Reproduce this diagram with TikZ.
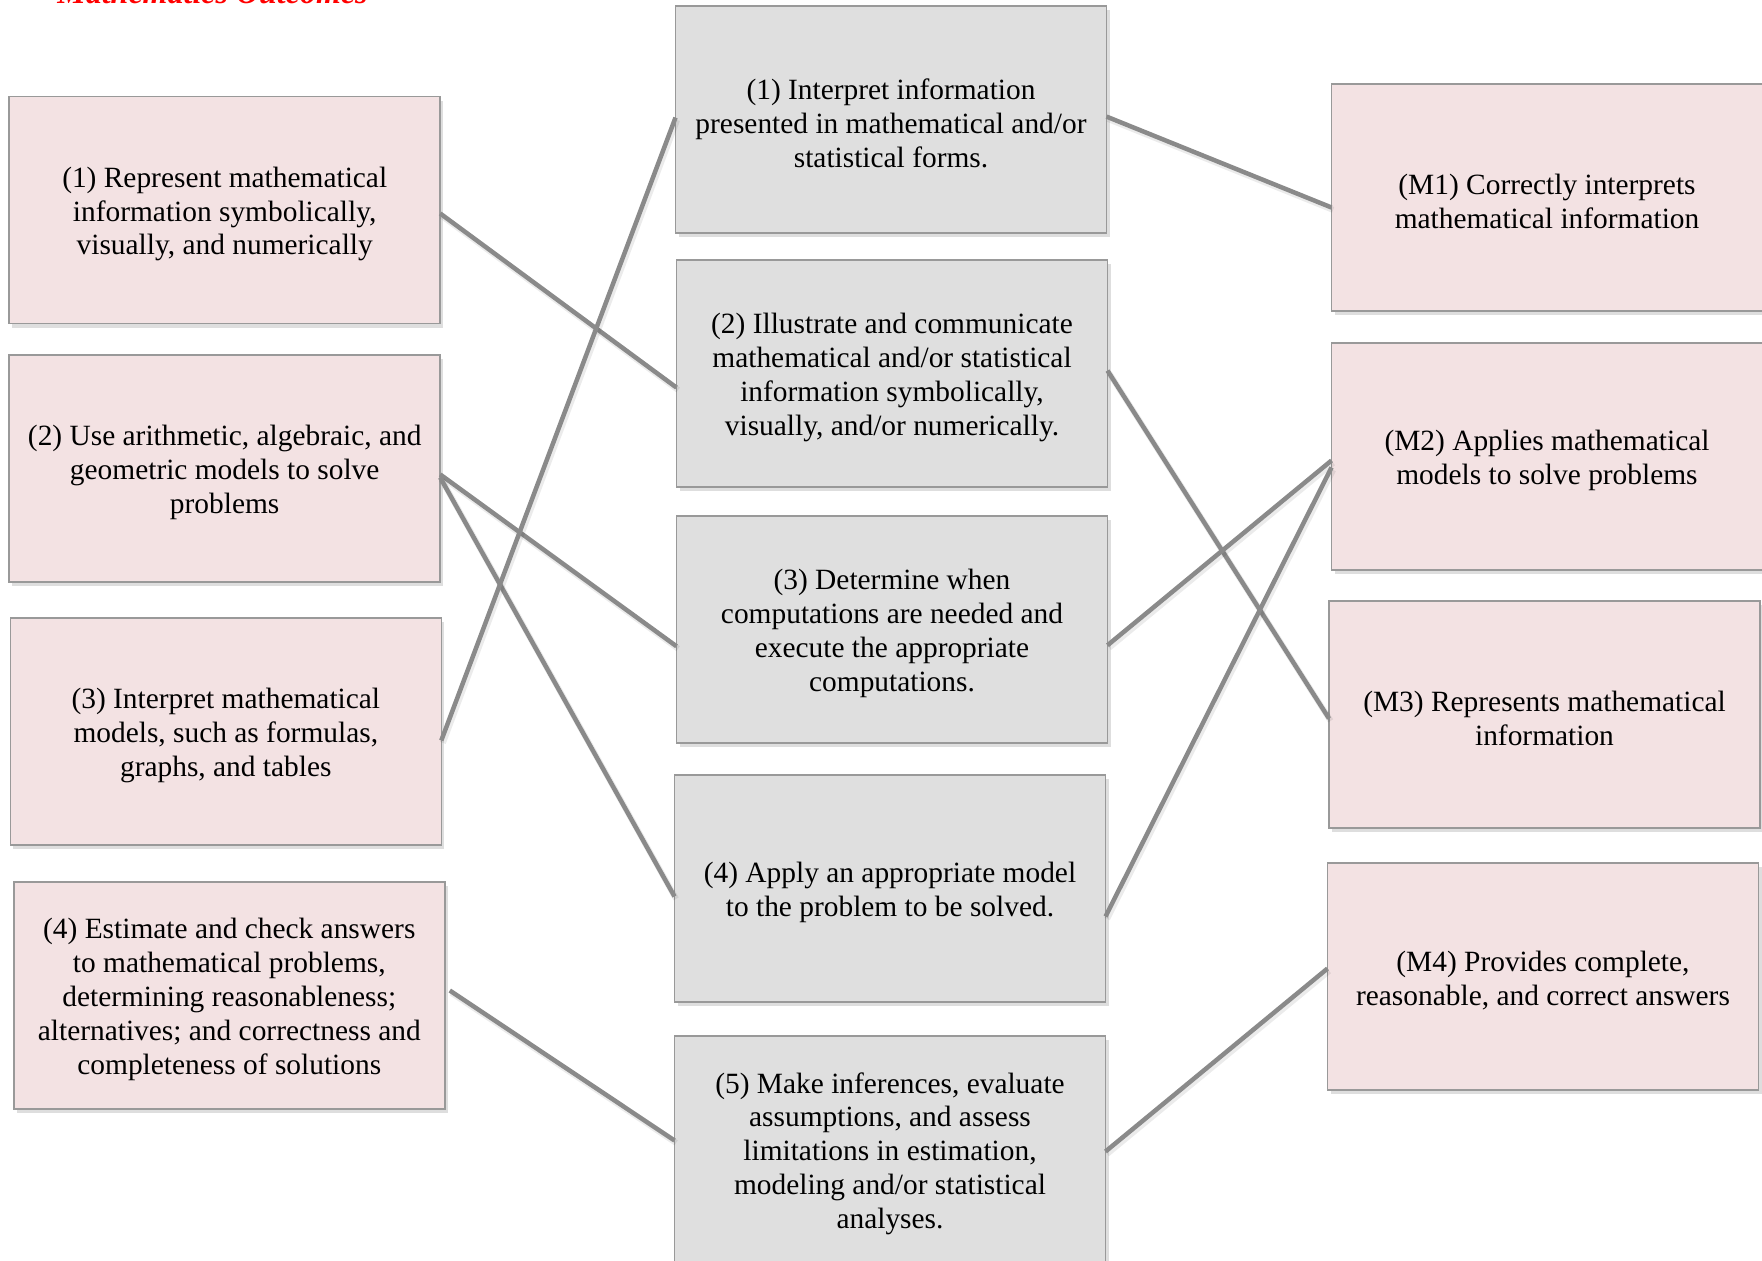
\documentclass[tikz,border=0pt]{standalone}
\usepackage{fontspec}
\setmainfont{Liberation Serif}
\usetikzlibrary{calc,shadows}
\definecolor{pinkfill}{HTML}{F3E2E3}
\definecolor{grayfill}{HTML}{DFDFDF}
\definecolor{boxline}{HTML}{999999}
\definecolor{linkcol}{HTML}{8A8A8A}
\begin{document}
\begin{tikzpicture}[x=0.5pt,y=-0.5pt,
  box/.style={draw=boxline, line width=0.75pt, minimum width=215.5pt, minimum height=113.5pt,
    inner sep=0pt, outer sep=0pt,
    drop shadow={shadow xshift=1.5pt, shadow yshift=-2.2pt, opacity=0.13, fill=black}},
  pbox/.style={box, fill=pinkfill},
  gbox/.style={box, fill=grayfill},
  tl/.style={align=center, inner sep=0pt, yshift=-2pt,
    font=\fontsize{14.7}{16.9}\selectfont},
  link/.style={draw=linkcol, line width=2.25pt,
    preaction={draw=black, opacity=0.08, line width=3pt, transform canvas={shift={(0.8pt,-1.2pt)}}}}]
\useasboundingbox (0,0) rectangle (1762,1261);
\begin{scope}
\clip (0,0) rectangle (1762,1261);
% title (cut off at top edge, as in the reference)
\node[anchor=base west, inner sep=0pt, text=red, font=\fontsize{16}{19}\selectfont\bfseries\itshape] (title) at (57,3.5) {Mathematics Outcomes};

% left column
\node[pbox, label={[tl]center:{(1) Represent mathematical\\information symbolically,\\visually, and numerically}}] (L1) at (224.7,210) {};
\node[pbox, label={[tl]center:{(2) Use arithmetic, algebraic, and\\geometric models to solve\\problems}}] (L2) at (224.7,468.5) {};
\node[pbox, label={[tl]center:{(3) Interpret mathematical\\models, such as formulas,\\graphs, and tables}}] (L3) at (225.8,731.5) {};
\node[pbox, label={[tl]center:{(4) Estimate and check answers\\to mathematical problems,\\determining reasonableness;\\alternatives; and correctness and\\completeness of solutions}}] (L4) at (229.3,995.5) {};

% middle column
\node[gbox, label={[tl]center:{(1) Interpret information\\presented in mathematical and/or\\statistical forms.}}] (C1) at (891,119.6) {};
\node[gbox, label={[tl]center:{(2) Illustrate and communicate\\mathematical and/or statistical\\information symbolically,\\visually, and/or numerically.}}] (C2) at (892,373.6) {};
\node[gbox, label={[tl]center:{(3) Determine when\\computations are needed and\\execute the appropriate\\computations.}}] (C3) at (892,629.3) {};
\node[gbox, label={[tl]center:{(4) Apply an appropriate model\\to the problem to be solved.}}] (C4) at (890,888.5) {};
\node[gbox, label={[tl]center:{(5) Make inferences, evaluate\\assumptions, and assess\\limitations in estimation,\\modeling and/or statistical\\analyses.}}] (C5) at (890,1149.5) {};

% right column
\node[pbox, label={[tl]center:{(M1) Correctly interprets\\mathematical information}}] (R1) at (1547,197.5) {};
\node[pbox, label={[tl]center:{(M2) Applies mathematical\\models to solve problems}}] (R2) at (1547,456.5) {};
\node[pbox, label={[tl]center:{(M3) Represents mathematical\\information}}] (R3) at (1544.5,714.5) {};
\node[pbox, label={[tl]center:{(M4) Provides complete,\\reasonable, and correct answers}}] (R4) at (1543,976.5) {};

% connectors
\draw[link] ($(L1.east)+(0,3.5)$) -- ($(C2.west)+(0,14)$);
\draw[link] ($(L2.east)+(0,6)$) -- ($(C3.west)+(0,17)$);
\draw[link] ($(L2.east)+(0,9)$) -- ($(C4.west)+(0,8)$);
\draw[link] ($(L3.east)+(0,9)$) -- ($(C1.west)+(0,-2)$);
\draw[link] ($(L4.east)+(5,-5)$) -- ($(C5.west)+(0,-9)$);
\draw[link] ($(C1.east)+(0,-3)$) -- ($(R1.west)+(0,10)$);
\draw[link] ($(C2.east)+(0,-3)$) -- ($(R3.west)+(0,4)$);
\draw[link] ($(C3.east)+(0,16)$) -- ($(R2.west)+(0,4)$);
\draw[link] ($(C4.east)+(0,28)$) -- ($(R2.west)+(0,11)$);
\draw[link] ($(C5.east)+(0,2)$) -- ($(R4.west)+(0,-8)$);
\end{scope}
\end{tikzpicture}
\end{document}
